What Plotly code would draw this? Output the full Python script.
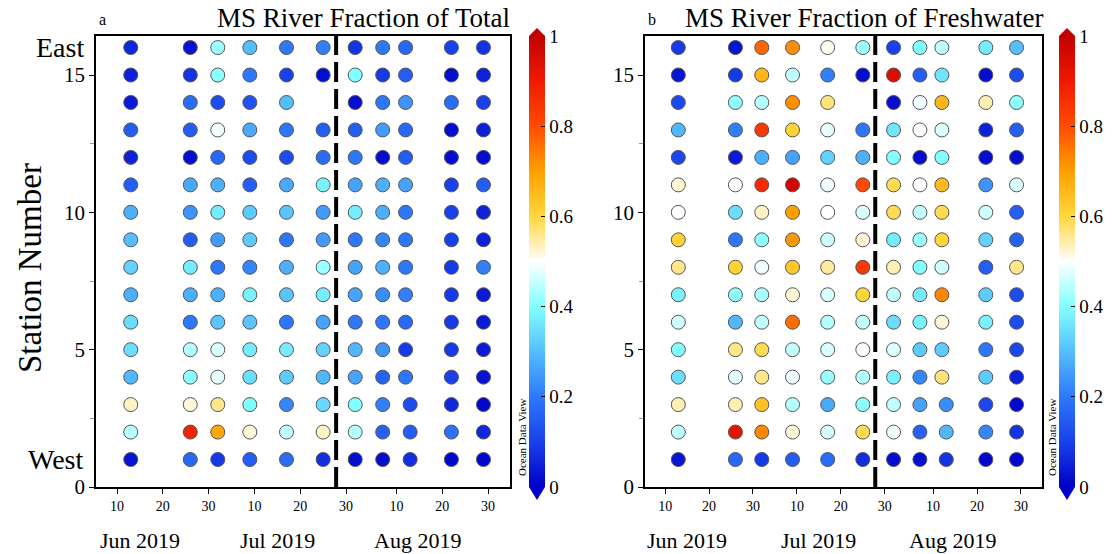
import plotly.graph_objects as go

# Sampling cruises (one column of stations per cruise date)
cruise_dates = ["2019-06-13", "2019-06-26", "2019-07-02", "2019-07-09", "2019-07-17",
                "2019-07-25", "2019-08-01", "2019-08-07", "2019-08-12", "2019-08-22",
                "2019-08-29"]
# western stations of the 12 Aug cruise were occupied a day later
late_cruise_index = 8
late_stations = [1, 2, 3]
late_date = "2019-08-13"

stations = list(range(16, 0, -1))  # row order: East (16) down to West (1)

# Mississippi River water as fraction of total water (rows follow `stations`)
frac_total = [
    [0.06, 0.03, 0.42, 0.30, 0.20, 0.21, 0.08, 0.20, 0.17, 0.10, 0.08],
    [0.05, 0.08, 0.41, 0.20, 0.10, 0.02, 0.40, 0.09, 0.15, 0.02, 0.05],
    [0.04, 0.18, 0.12, 0.13, 0.30, None, 0.02, 0.20, 0.24, 0.18, 0.10],
    [0.15, 0.15, 0.49, 0.27, 0.20, 0.15, 0.15, 0.25, 0.17, 0.02, 0.05],
    [0.05, 0.02, 0.17, 0.12, 0.12, 0.18, 0.20, 0.02, 0.15, 0.02, 0.02],
    [0.15, 0.27, 0.28, 0.15, 0.27, 0.38, 0.26, 0.28, 0.26, 0.10, 0.15],
    [0.28, 0.24, 0.37, 0.32, 0.31, 0.25, 0.37, 0.28, 0.20, 0.10, 0.05],
    [0.30, 0.15, 0.25, 0.32, 0.20, 0.25, 0.20, 0.22, 0.20, 0.10, 0.05],
    [0.33, 0.37, 0.20, 0.22, 0.28, 0.42, 0.26, 0.28, 0.20, 0.09, 0.21],
    [0.28, 0.28, 0.28, 0.38, 0.31, 0.37, 0.26, 0.23, 0.21, 0.09, 0.04],
    [0.35, 0.20, 0.31, 0.31, 0.20, 0.26, 0.20, 0.20, 0.17, 0.09, 0.04],
    [0.35, 0.44, 0.47, 0.37, 0.37, 0.33, 0.29, 0.24, 0.09, 0.09, 0.04],
    [0.29, 0.41, 0.48, 0.35, 0.32, 0.29, 0.26, 0.16, 0.20, 0.10, 0.03],
    [0.53, 0.52, 0.56, 0.40, 0.22, 0.34, 0.40, 0.21, 0.12, 0.06, 0.01],
    [0.44, 0.88, 0.69, 0.52, 0.45, 0.53, 0.44, 0.16, 0.15, 0.19, 0.06],
    [0.03, 0.17, 0.09, 0.15, 0.18, 0.07, 0.02, 0.02, 0.07, 0.01, 0.01],
]

# Mississippi River water as fraction of freshwater
frac_fresh = [
    [0.09, 0.03, 0.77, 0.72, 0.51, 0.42, 0.10, 0.40, 0.45, 0.37, 0.30],
    [0.03, 0.09, 0.66, 0.45, 0.21, 0.02, 0.95, 0.15, 0.36, 0.02, 0.12],
    [0.11, 0.41, 0.44, 0.72, 0.57, None, 0.02, 0.49, 0.66, 0.54, 0.41],
    [0.29, 0.21, 0.84, 0.61, 0.48, 0.20, 0.36, 0.50, 0.47, 0.05, 0.15],
    [0.11, 0.04, 0.28, 0.26, 0.33, 0.28, 0.40, 0.02, 0.40, 0.02, 0.02],
    [0.52, 0.50, 0.87, 0.97, 0.49, 0.80, 0.59, 0.50, 0.65, 0.24, 0.47],
    [0.50, 0.35, 0.53, 0.70, 0.50, 0.47, 0.59, 0.45, 0.59, 0.46, 0.15],
    [0.61, 0.20, 0.41, 0.71, 0.46, 0.52, 0.37, 0.42, 0.60, 0.33, 0.16],
    [0.56, 0.61, 0.49, 0.63, 0.55, 0.84, 0.54, 0.40, 0.46, 0.15, 0.56],
    [0.38, 0.41, 0.43, 0.52, 0.47, 0.60, 0.45, 0.37, 0.73, 0.32, 0.12],
    [0.46, 0.29, 0.45, 0.76, 0.44, 0.45, 0.35, 0.38, 0.52, 0.38, 0.12],
    [0.40, 0.56, 0.59, 0.45, 0.47, 0.50, 0.47, 0.32, 0.32, 0.20, 0.11],
    [0.35, 0.48, 0.56, 0.49, 0.42, 0.44, 0.38, 0.22, 0.57, 0.32, 0.05],
    [0.54, 0.54, 0.64, 0.44, 0.27, 0.41, 0.45, 0.26, 0.23, 0.11, 0.01],
    [0.45, 0.92, 0.73, 0.52, 0.47, 0.59, 0.49, 0.16, 0.29, 0.22, 0.08],
    [0.03, 0.17, 0.09, 0.15, 0.18, 0.07, 0.02, 0.02, 0.08, 0.01, 0.01],
]

divider_date = "2019-07-27 20:00"
tick_dates = ["2019-06-10", "2019-06-20", "2019-06-30", "2019-07-10", "2019-07-20",
              "2019-07-30", "2019-08-10", "2019-08-20", "2019-08-30"]
tick_text = ["10", "20", "30", "10", "20", "30", "10", "20", "30"]
month_labels = ["Jun 2019", "Jul 2019", "Aug 2019"]
month_centres = ["2019-06-15", "2019-07-15", "2019-08-14 12:00"]
cbar_ticks = [0, 0.2, 0.4, 0.6, 0.8, 1]
cbar_text = ["0", "0.2", "0.4", "0.6", "0.8", "1"]

# Ocean Data View style palette
odv_scale = [
    [0.00, "rgb(0,0,200)"],
    [0.10, "rgb(25,65,235)"],
    [0.20, "rgb(45,120,250)"],
    [0.30, "rgb(85,190,255)"],
    [0.40, "rgb(130,255,255)"],
    [0.50, "rgb(255,255,255)"],
    [0.60, "rgb(255,215,60)"],
    [0.70, "rgb(255,160,0)"],
    [0.80, "rgb(255,75,0)"],
    [0.90, "rgb(240,25,0)"],
    [1.00, "rgb(195,0,0)"],
]

FONT = "Liberation Serif"
W, H = 1112, 554


def flatten(values):
    xs, ys, cs = [], [], []
    for r, st in enumerate(stations):
        for c, d in enumerate(cruise_dates):
            v = values[r][c]
            if v is None:
                continue
            if c == late_cruise_index and st in late_stations:
                d = late_date
            xs.append(d)
            ys.append(st)
            cs.append(v)
    return xs, ys, cs


def px_x(p):
    return p / W


def px_y(p):
    return 1 - p / H


panels = [
    dict(values=frac_total, xa="x", ya="y", dom=(96, 510), cbx=(529, 545),
         title="MS River Fraction of Total", letter="a", title_right=512, letter_x=103),
    dict(values=frac_fresh, xa="x2", ya="y2", dom=(645, 1042), cbx=(1059, 1075),
         title="MS River Fraction of Freshwater", letter="b", title_right=1045, letter_x=652),
]

plot_top, plot_bottom = 36, 487
ydom = [px_y(plot_bottom), px_y(plot_top)]

fig = go.Figure()
shapes, annotations = [], []
layout_axes = {}

for i, p in enumerate(panels):
    xs, ys, cs = flatten(p["values"])
    cb_left, cb_right = p["cbx"]
    fig.add_trace(go.Scatter(
        x=xs, y=ys, mode="markers", xaxis=p["xa"], yaxis=p["ya"],
        marker=dict(
            size=14, color=cs, colorscale=odv_scale, cmin=0, cmax=1,
            line=dict(color="#555555", width=1),
            showscale=True,
            colorbar=dict(
                x=px_x(cb_left), xanchor="left", y=ydom[0], yanchor="bottom",
                len=ydom[1] - ydom[0], lenmode="fraction",
                thickness=cb_right - cb_left, thicknessmode="pixels",
                outlinewidth=0, xpad=0, ypad=0,
                tickvals=cbar_ticks, ticktext=cbar_text,
                ticks="inside", ticklen=4, tickcolor="black",
                tickfont=dict(family=FONT, size=19, color="black"),
            ),
        ),
        hoverinfo="skip", showlegend=False,
    ))

    suffix = "" if i == 0 else "2"
    layout_axes["xaxis" + suffix] = dict(
        domain=[px_x(p["dom"][0]), px_x(p["dom"][1])], anchor=p["ya"],
        type="date", range=["2019-06-05 10:00", "2019-09-03 19:00"],
        tickmode="array", tickvals=tick_dates, ticktext=tick_text,
        ticks="outside", ticklen=5, tickcolor="black",
        showline=True, mirror=True, linecolor="black", linewidth=1.5,
        showgrid=False, zeroline=False, automargin=False,
        tickfont=dict(family=FONT, size=14, color="black"),
    )
    layout_axes["yaxis" + suffix] = dict(
        domain=ydom, anchor=p["xa"], range=[0, 16.42],
        tickmode="array", tickvals=[0, 5, 10, 15],
        ticks="outside", ticklen=5, tickcolor="black",
        minor=dict(ticks="outside", ticklen=4, tickcolor="#999999", dtick=2.5, tick0=0),
        showline=True, mirror=True, linecolor="black", linewidth=1.5,
        showgrid=False, zeroline=False, automargin=False,
        tickfont=dict(family=FONT, size=21, color="black"),
    )

    # boundary between the two sampling periods
    shapes.append(dict(type="line", xref=p["xa"], yref=p["ya"] + " domain",
                       x0=divider_date, x1=divider_date, y0=0, y1=1,
                       line=dict(color="black", width=4, dash="20px,7px")))

    # ODV-style extension triangles on the colour bar
    xl, xr = px_x(cb_left), px_x(cb_right)
    xm = (xl + xr) / 2
    shapes.append(dict(type="path", xref="paper", yref="paper",
                       path=f"M {xl},{ydom[1]} L {xr},{ydom[1]} L {xm},{px_y(28)} Z",
                       fillcolor="rgb(195,0,0)", line=dict(width=0)))
    shapes.append(dict(type="path", xref="paper", yref="paper",
                       path=f"M {xl},{ydom[0]} L {xr},{ydom[0]} L {xm},{px_y(500)} Z",
                       fillcolor="rgb(0,0,200)", line=dict(width=0)))

    annotations.append(dict(text="Ocean Data View", xref="paper", yref="paper",
                            x=px_x(cb_left - 7), y=px_y(438), textangle=-90,
                            showarrow=False, xanchor="center", yanchor="middle",
                            font=dict(family=FONT, size=11, color="black")))

    annotations.append(dict(text=p["title"], xref="paper", yref="paper",
                            x=px_x(p["title_right"]), y=px_y(18), xanchor="right",
                            yanchor="middle", showarrow=False,
                            font=dict(family=FONT, size=27, color="black")))
    annotations.append(dict(text=p["letter"], xref="paper", yref="paper",
                            x=px_x(p["letter_x"]), y=px_y(19), xanchor="center",
                            yanchor="middle", showarrow=False,
                            font=dict(family=FONT, size=16, color="black")))

    for lab, centre in zip(month_labels, month_centres):
        annotations.append(dict(text=lab, xref=p["xa"], yref="paper",
                                x=centre, y=px_y(540), xanchor="center",
                                yanchor="middle", showarrow=False,
                                font=dict(family=FONT, size=22, color="black")))

# station orientation labels and axis title on the left panel
annotations.append(dict(text="East", xref="paper", yref="y", x=px_x(86), y=16,
                        xanchor="right", yanchor="middle", showarrow=False,
                        font=dict(family=FONT, size=28, color="black")))
annotations.append(dict(text="West", xref="paper", yref="y", x=px_x(86), y=1,
                        xanchor="right", yanchor="middle", showarrow=False,
                        font=dict(family=FONT, size=28, color="black")))
annotations.append(dict(text="Station Number", xref="paper", yref="paper",
                        x=px_x(30), y=px_y(268), textangle=-90, xanchor="center",
                        yanchor="middle", showarrow=False,
                        font=dict(family=FONT, size=33, color="black")))

fig.update_layout(
    width=W, height=H, autosize=False, margin=dict(l=0, r=0, t=0, b=0),
    paper_bgcolor="white", plot_bgcolor="white", showlegend=False,
    font=dict(family=FONT, color="black"),
    shapes=shapes, annotations=annotations,
    **layout_axes,
)

fig.write_html("out.html")
